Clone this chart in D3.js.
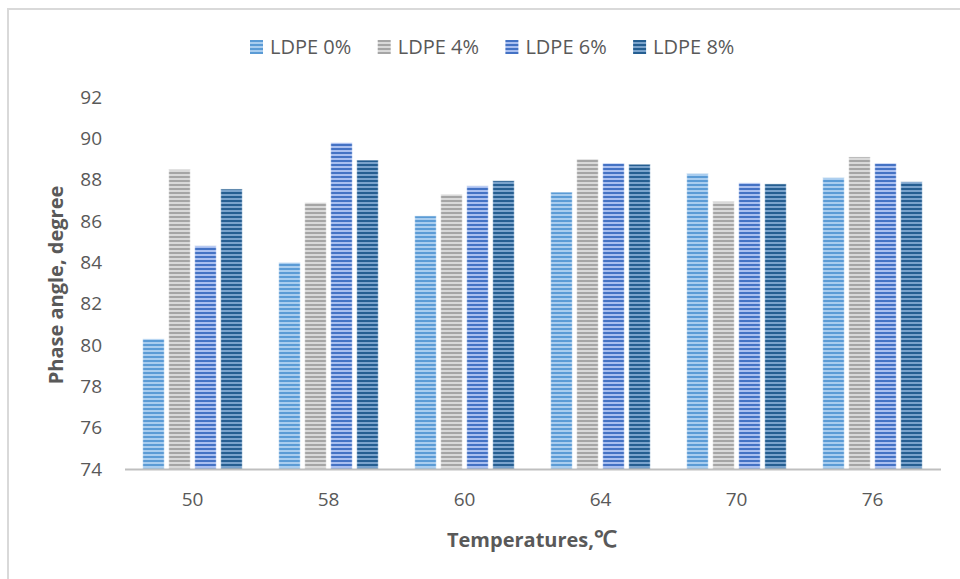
<!DOCTYPE html>
<html>
<head>
<meta charset="utf-8">
<script src="https://cdn.jsdelivr.net/npm/d3@7"></script>
<style>
  html, body { margin: 0; padding: 0; background: #fff; }
  svg { display: block; font-family: "Open Sans", sans-serif; }
</style>
</head>
<body>
<script>
// temperatures on the x axis
var temps = ["50", "58", "60", "64", "70", "76"];
var seriesNames = ["LDPE 0%", "LDPE 4%", "LDPE 6%", "LDPE 8%"];
// phase angle, degree
var ldpe0 = [80.3, 84.0, 86.25, 87.4, 88.3, 88.1];
var ldpe4 = [88.5, 86.9, 87.3, 89.0, 86.95, 89.1];
var ldpe6 = [84.8, 89.8, 87.7, 88.8, 87.85, 88.8];
var ldpe8 = [87.55, 88.95, 87.95, 88.75, 87.8, 87.9];
var yTicks = [74, 76, 78, 80, 82, 84, 86, 88, 90, 92];

var allSeries = [ldpe0, ldpe4, ldpe6, ldpe8];
var base = ["#5b9bd5", "#a5a5a5", "#4472c4", "#255e91"];
var stripe = ["#a9cdef", "#d9d9d9", "#a9bff0", "#7aa3cc"];

var w = 960, h = 579;
var svg = d3.select("body").append("svg")
    .attr("width", w)
    .attr("height", h);

// chart frame (only top / left edges show)
svg.append("rect")
    .attr("x", 8).attr("y", 9)
    .attr("width", 1000).attr("height", 1000)
    .style("fill", "none")
    .style("stroke", "#d9d9d9")
    .style("stroke-width", 2);

var defs = svg.append("defs");
base.forEach(function(c, i){
  var p = defs.append("pattern")
      .attr("id", "pat" + i)
      .attr("patternUnits", "userSpaceOnUse")
      .attr("width", 8).attr("height", 4);
  p.append("rect").attr("width", 8).attr("height", 4).style("fill", c);
  p.append("rect").attr("y", 2).attr("width", 8).attr("height", 2).style("fill", stripe[i]);
});

var x0 = d3.scaleBand()
    .domain(temps)
    .range([124.5, 940.5]);

var x1 = d3.scaleBand()
    .domain(d3.range(seriesNames.length))
    .range([0, x0.bandwidth()])
    .paddingInner(0.17)
    .paddingOuter(0.7);

var y = d3.scaleLinear()
    .domain([74, 92])
    .range([469, 97]);

var groups = svg.selectAll("g.grp")
    .data(temps)
    .enter()
    .append("g")
    .attr("class", "grp")
    .attr("transform", function(d){ return "translate(" + x0(d) + ",0)"; });

groups.selectAll("rect")
    .data(function(d, i){ return allSeries.map(function(s, k){ return {k: k, v: s[i]}; }); })
    .enter()
    .append("rect")
    .attr("x", function(d){ return x1(d.k); })
    .attr("y", function(d){ return y(d.v); })
    .attr("width", x1.bandwidth())
    .attr("height", function(d){ return y(74) - y(d.v); })
    .style("fill", function(d){ return "url(#pat" + d.k + ")"; })
    .style("stroke", "#ffffff")
    .style("stroke-opacity", 0.6)
    .style("stroke-width", 1);

// y axis labels (no axis line)
var yAxis = svg.append("g")
    .attr("transform", "translate(102,0)")
    .call(d3.axisLeft(y).tickValues(yTicks).tickSize(0).tickPadding(0));
yAxis.select(".domain").remove();
yAxis.selectAll("text")
    .style("font-family", "Open Sans")
    .style("font-size", "19px")
    .style("fill", "#595959");

// x axis
var xAxis = svg.append("g")
    .attr("transform", "translate(0,469)")
    .call(d3.axisBottom(x0).tickSize(0).tickPadding(24));
xAxis.select(".domain")
    .style("stroke", "#bfbfbf")
    .style("stroke-width", 2);
xAxis.selectAll("text")
    .style("font-family", "Open Sans")
    .style("font-size", "19px")
    .style("fill", "#595959");

// axis titles
svg.append("text")
    .attr("transform", "translate(63,285) rotate(-90)")
    .attr("text-anchor", "middle")
    .style("font-size", "20px")
    .style("font-weight", "bold")
    .style("fill", "#595959")
    .text("Phase angle, degree");

var xt = svg.append("text")
    .attr("x", 532).attr("y", 547)
    .attr("text-anchor", "middle")
    .style("font-size", "20px")
    .style("font-weight", "bold")
    .style("fill", "#595959");
xt.append("tspan").text("Temperatures,");
xt.append("tspan")
    .style("font-family", "Liberation Serif")
    .style("font-size", "23px")
    .text("℃");

// legend
var leg = svg.selectAll("g.leg")
    .data(seriesNames)
    .enter()
    .append("g")
    .attr("class", "leg")
    .attr("transform", function(d, i){ return "translate(" + (250 + i * 127.7) + ",40)"; });
leg.append("rect")
    .attr("width", 13).attr("height", 14)
    .style("fill", function(d, i){ return "url(#pat" + i + ")"; });
leg.append("text")
    .attr("x", 20).attr("y", 14)
    .style("font-size", "20px")
    .style("fill", "#595959")
    .text(function(d){ return d; });
</script>
</body>
</html>
